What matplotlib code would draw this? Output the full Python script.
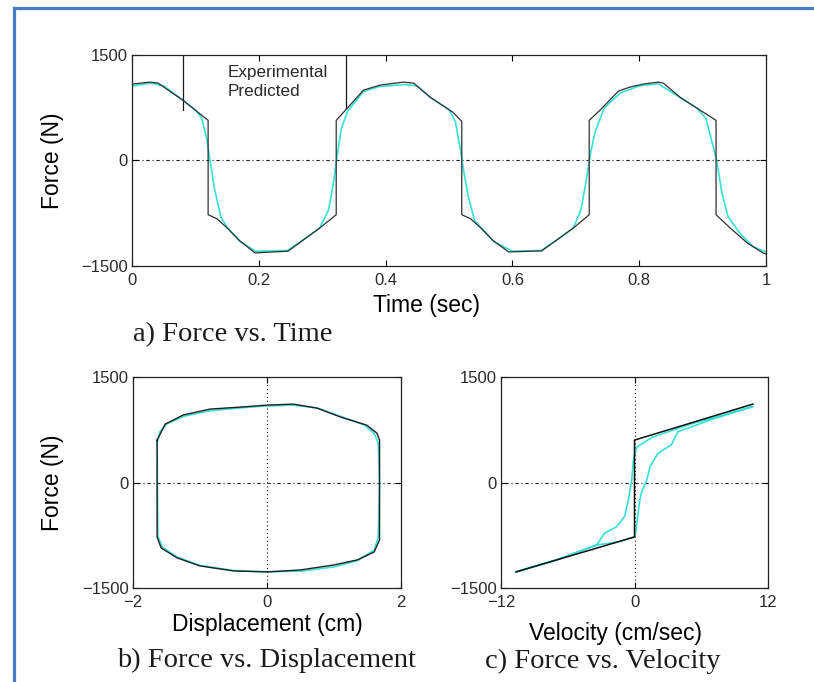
import numpy as np
import matplotlib.pyplot as plt
from matplotlib.lines import Line2D

# a) force vs time -- predicted model (black) and measured (cyan)
t_pred = [0.0, 0.028, 0.041, 0.08, 0.12,
          0.12, 0.134, 0.15, 0.17, 0.194, 0.246, 0.27, 0.296, 0.322,
          0.322, 0.338, 0.365, 0.391, 0.428, 0.444, 0.47, 0.506, 0.52,
          0.52, 0.534, 0.55, 0.57, 0.594, 0.646, 0.67, 0.696, 0.721,
          0.721, 0.738, 0.767, 0.785, 0.806, 0.83, 0.838, 0.864, 0.891, 0.921,
          0.921, 0.943, 0.97, 0.995, 1.0]
f_pred = [1086, 1114, 1100, 857, 571,
          -771, -829, -960, -1143, -1314, -1290, -1130, -960, -771,
          571, 729, 1000, 1071, 1114, 1100, 900, 686, 557,
          -771, -829, -960, -1143, -1300, -1286, -1130, -960, -771,
          571, 714, 986, 1043, 1086, 1114, 1100, 900, 743, 571,
          -771, -957, -1171, -1314, -1330]

t_exp = [0.0, 0.03, 0.05, 0.08, 0.10, 0.11, 0.118, 0.123, 0.13, 0.14, 0.15, 0.17,
         0.195, 0.245, 0.27, 0.296, 0.31, 0.318, 0.324, 0.33, 0.34, 0.365, 0.39,
         0.43, 0.45, 0.47, 0.50, 0.51, 0.517, 0.523, 0.53, 0.54, 0.57, 0.60, 0.645,
         0.67, 0.696, 0.708, 0.716, 0.722, 0.73, 0.745, 0.77, 0.80, 0.83, 0.86,
         0.89, 0.905, 0.915, 0.922, 0.93, 0.94, 0.96, 0.98, 1.0]
f_exp = [1060, 1100, 1060, 860, 720, 600, 300, 0, -400, -800, -950, -1150,
         -1290, -1280, -1130, -960, -700, -300, 100, 450, 700, 980, 1050,
         1080, 1060, 900, 720, 550, 200, -150, -500, -850, -1150, -1290, -1280,
         -1130, -960, -700, -300, 50, 400, 750, 960, 1060, 1090, 920,
         750, 600, 250, 0, -450, -800, -1050, -1230, -1300]

# b) force vs displacement loops
d_pred = [-1.64, -1.52, -1.25, -0.85, -0.4, 0.0, 0.39, 0.75, 1.1, 1.49, 1.64, 1.68,
          1.68, 1.6, 1.35, 1.0, 0.5, 0.0, -0.5, -1.0, -1.34, -1.58, -1.64, -1.64]
fd_pred = [603, 830, 960, 1044, 1072, 1100, 1115, 1057, 930, 815, 703, 603,
           -816, -987, -1100, -1172, -1243, -1271, -1257, -1186, -1072, -930, -774, 603]

d_exp = [-1.64, -1.6, -1.5, -1.25, -0.85, -0.4, 0.0, 0.4, 0.75, 1.1, 1.45, 1.6, 1.66,
         1.68, 1.66, 1.6, 1.35, 1.0, 0.5, 0.0, -0.5, -1.0, -1.34, -1.56, -1.63, -1.64]
fd_exp = [560, 720, 830, 940, 1020, 1060, 1090, 1100, 1060, 940, 820, 700, 560,
          0, -780, -960, -1110, -1200, -1260, -1270, -1250, -1180, -1060, -920, -760, 560]

# c) force vs velocity
v_pred = [-10.65, 0.0, 0.0, 10.65]
fv_pred = [-1271, -774, 603, 1115]

v_exp = [-10.65, -7.0, -3.4, -2.7, -1.6, -0.9, -0.55, -0.25, -0.1, 0.2, 0.96, 1.55,
         5.0, 10.65, 7.0, 3.9, 3.3, 2.8, 2.1, 1.4, 1.1, 0.6, 0.45, 0.2, 0.05,
         -1.5, -3.4, -7.0, -10.65]
fv_exp = [-1271, -1100, -888, -722, -627, -485, -249, 36, 320, 504, 580, 640,
          830, 1080, 900, 722, 533, 485, 414, 225, 36, -153, -272, -600, -770,
          -845, -888, -1100, -1271]

CYAN = '#38e0d6'
INK = '#1a1a1a'
SANS = 'Liberation Sans'
SERIF = 'Liberation Serif'

plt.rcParams['font.family'] = SANS
plt.rcParams['axes.linewidth'] = 0.9
plt.rcParams['axes.edgecolor'] = '#222222'

fig = plt.figure(figsize=(8.14, 6.82), dpi=100)


def style(ax, xlim, xticks, xtl):
    ax.set_xlim(xlim)
    ax.set_ylim(-1500, 1500)
    ax.set_xticks(xticks)
    ax.set_xticklabels(xtl)
    ax.set_yticks([-1500, 0, 1500])
    ax.set_yticklabels(['\u22121500', '0', '1500'])
    ax.tick_params(direction='in', length=4, width=0.8, top=True, right=True,
                   labelsize=12, labelcolor='#2a2a2a')
    ax.tick_params(axis='x', pad=5)
    ax.tick_params(axis='y', pad=3)
    ax.axhline(0, color=INK, lw=0.8, ls=(0, (1, 2.5, 3, 2.5)), zorder=1)


# top panel
ax1 = fig.add_axes([0.1622, 0.610, 0.779, 0.3094])
ax1.plot(t_exp, f_exp, color=CYAN, lw=1.2, zorder=2)
ax1.plot(t_pred, f_pred, color='#303030', lw=0.9, zorder=3)
style(ax1, (0, 1), [0, 0.2, 0.4, 0.6, 0.8, 1], ['0', '0.2', '0.4', '0.6', '0.8', '1'])
ax1.set_xlabel('Time (sec)', fontsize=16.5)
ax1.xaxis.set_label_coords(0.465, -0.133)
ax1.set_ylabel('Force (N)', fontsize=16.5)
ax1.yaxis.set_label_coords(-0.107, 0.5)

# legend box sides
ax1.add_line(Line2D([0.08, 0.08], [1, 0.74], transform=ax1.transAxes, color=INK, lw=0.9))
ax1.add_line(Line2D([0.3375, 0.3375], [1, 0.75], transform=ax1.transAxes, color=INK, lw=0.9))
ax1.text(0.151, 0.915, 'Experimental', transform=ax1.transAxes, fontsize=12.3,
         va='center', ha='left', color='#2a2a2a')
ax1.text(0.151, 0.825, 'Predicted', transform=ax1.transAxes, fontsize=12.3,
         va='center', ha='left', color='#2a2a2a')

# bottom left
ax2 = fig.add_axes([0.1634, 0.1378, 0.3292, 0.3094])
ax2.plot(d_exp, fd_exp, color=CYAN, lw=1.2, zorder=2)
ax2.plot(d_pred, fd_pred, color='#202020', lw=1.0, zorder=3)
style(ax2, (-2, 2), [-2, 0, 2], ['\u22122', '0', '2'])
ax2.axvline(0, color=INK, lw=0.8, ls=(0, (1, 2.5)), zorder=1)
ax2.set_xlabel('Displacement (cm)', fontsize=16.5)
ax2.xaxis.set_label_coords(0.5, -0.118)
ax2.set_ylabel('Force (N)', fontsize=16.5)
ax2.yaxis.set_label_coords(-0.257, 0.5)

# bottom right
ax3 = fig.add_axes([0.6155, 0.1378, 0.328, 0.3094])
ax3.plot(v_exp, fv_exp, color=CYAN, lw=1.2, zorder=2)
ax3.plot(v_pred, fv_pred, color='#101010', lw=1.1, zorder=3)
style(ax3, (-12, 12), [-12, 0, 12], ['\u221212', '0', '12'])
ax3.axvline(0, color=INK, lw=0.8, ls=(0, (1, 2.5)), zorder=1)
ax3.set_xlabel('Velocity (cm/sec)', fontsize=16.5)
ax3.xaxis.set_label_coords(0.427, -0.161)

# captions
fig.text(233 / 814, 1 - 335 / 682, 'a) Force vs. Time', family=SERIF, fontsize=20.5,
         ha='center', va='center', color='#1a1a1a')
fig.text(266 / 814, 1 - 660 / 682, 'b) Force vs. Displacement', family=SERIF, fontsize=20.5,
         ha='center', va='center', color='#1a1a1a')
fig.text(603 / 814, 1 - 661 / 682, 'c) Force vs. Velocity', family=SERIF, fontsize=20.5,
         ha='center', va='center', color='#1a1a1a')

# frame around the figure (left and top edges)
fig.add_artist(Line2D([14 / 814, 14 / 814], [0, 1 - 7.5 / 682], transform=fig.transFigure,
                      color='#4a7cc4', lw=2.3))
fig.add_artist(Line2D([14 / 814, 1], [1 - 7.5 / 682, 1 - 7.5 / 682], transform=fig.transFigure,
                      color='#4a7cc4', lw=2.3))

fig.savefig('out.png', dpi=100)
